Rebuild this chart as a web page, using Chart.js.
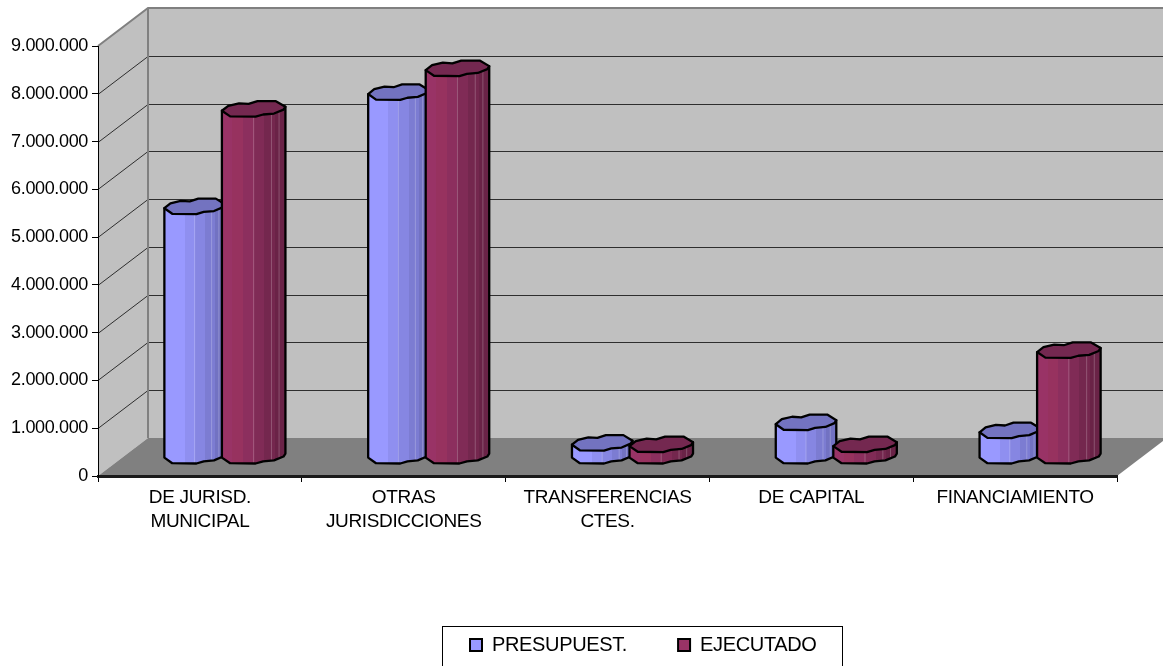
<!DOCTYPE html>
<html><head><meta charset="utf-8">
<style>html,body{margin:0;padding:0;background:#fff;overflow:hidden}canvas{display:block}</style>
<script src="https://cdn.jsdelivr.net/npm/chart.js@4/dist/chart.umd.min.js"></script>
</head><body><canvas id="c" width="1163" height="666"></canvas>
<script>
const categories = [['DE JURISD.','MUNICIPAL'],['OTRAS','JURISDICCIONES'],['TRANSFERENCIAS','CTES.'],'DE CAPITAL','FINANCIAMIENTO'];
const presupuest = [5230000,7620000,280000,710000,540000];
const ejecutado  = [7270000,8120000,250000,250000,2220000];
const seriesNames = ['PRESUPUEST.','EJECUTADO'];
const FONT = '"Liberation Sans", Arial, sans-serif';
const DEPTH_X = 50, DEPTH_Y = 38, BAR_DX = 25, BAR_DY = -12, CAP_H = 15.5;
const capShape = [[0,.62],[.1,.3],[.27,.14],[.42,.18],[.56,0],[.85,0],[1,.36],[.97,.55],[.82,.8],[.65,.86],[.53,1],[.13,.98]];
const frontEdge = [[0,.62],[.13,.98],[.53,1],[.65,.86],[.82,.8],[.97,.55],[1,.36]];
const palettes = [
  {extend:0,body:['#9999ff','#9999ff','#8f8ff0','#8686e2','#7c7cd2','#7272c2'],cap:'#7373c0'},
  {extend:3,body:['#993366','#97325f','#8c2f5e','#802b56','#74274e','#6a2347'],cap:'#742850'}
];
function cylinder(ctx, el, pal){
  const w = el.width + pal.extend, left = el.x - el.width/2 - pal.extend + BAR_DX;
  const front = el.y + BAR_DY, base = el.base + BAR_DY, h = base - front;
  const capTop = front - CAP_H;
  const px = u => left + u*w, py = v => capTop + v*CAP_H;
  ctx.save();
  ctx.lineJoin = 'round';
  const g = ctx.createLinearGradient(left,0,left+w,0);
  pal.body.forEach((c,i)=>{const n=pal.body.length; g.addColorStop(i/n,c); g.addColorStop((i+1)/n,c);});
  const body = new Path2D();
  body.moveTo(px(0),py(.62));
  frontEdge.forEach(p=>body.lineTo(px(p[0]),py(p[1])+h));
  body.lineTo(px(1),py(.36));
  body.lineTo(px(.5),py(.5));
  body.closePath();
  ctx.fillStyle = g; ctx.fill(body);
  ctx.save(); ctx.clip(body);
  ctx.strokeStyle='rgba(255,255,255,.22)'; ctx.lineWidth=1;
  [.5,.78,.9].forEach(u=>{ctx.beginPath();ctx.moveTo(px(u),capTop);ctx.lineTo(px(u),base+CAP_H);ctx.stroke();});
  ctx.restore();
  ctx.strokeStyle='#000'; ctx.lineWidth=2.3;
  ctx.stroke(body);
  const cap = new Path2D();
  capShape.forEach((p,i)=>i?cap.lineTo(px(p[0]),py(p[1])):cap.moveTo(px(p[0]),py(p[1])));
  cap.closePath();
  ctx.fillStyle = pal.cap; ctx.fill(cap); ctx.stroke(cap);
  ctx.restore();
}
const scene = {
  id:'scene',
  afterLayout(chart){
    const l = chart.legend;
    l.left = 419; l.right = 900; l.top = 584; l.bottom = 666;
  },
  beforeDraw(chart){
    const {ctx, chartArea:a, scales:{y}} = chart;
    ctx.letterSpacing = '-0.35px';
    ctx.save();
    const L=a.left,R=a.right,T=a.top,B=a.bottom;
    ctx.fillStyle='#fff'; ctx.fillRect(0,0,chart.width,chart.height);
    ctx.fillStyle='#c0c0c0';
    ctx.beginPath();ctx.moveTo(L,T);ctx.lineTo(L+DEPTH_X,T-DEPTH_Y);ctx.lineTo(L+DEPTH_X,B-DEPTH_Y);ctx.lineTo(L,B);ctx.closePath();ctx.fill();
    ctx.fillRect(L+DEPTH_X,T-DEPTH_Y,R-L,B-T);
    ctx.fillStyle='#808080';
    ctx.beginPath();ctx.moveTo(L,B);ctx.lineTo(L+DEPTH_X,B-DEPTH_Y);ctx.lineTo(R+DEPTH_X,B-DEPTH_Y);ctx.lineTo(R,B);ctx.closePath();ctx.fill();
    ctx.strokeStyle='#2e2e2e'; ctx.lineWidth=1;
    y.ticks.forEach(t=>{
      if(t.value<=0||t.value>=y.max) return;
      const p=Math.round(y.getPixelForValue(t.value))+.5;
      ctx.beginPath();ctx.moveTo(L,p);ctx.lineTo(L+DEPTH_X,p-DEPTH_Y);ctx.lineTo(R+DEPTH_X,p-DEPTH_Y);ctx.stroke();
    });
    ctx.strokeStyle='#808080'; ctx.lineWidth=2;
    ctx.beginPath();ctx.moveTo(L,T);ctx.lineTo(L+DEPTH_X,T-DEPTH_Y);ctx.lineTo(R+DEPTH_X,T-DEPTH_Y);ctx.moveTo(L+DEPTH_X,T-DEPTH_Y);ctx.lineTo(L+DEPTH_X,B-DEPTH_Y);ctx.stroke();
    ctx.strokeStyle='#000'; ctx.lineWidth=1;
    ctx.strokeRect(442.5,626.5,400,45);
    ctx.restore();
  },
  beforeDatasetsDraw(chart){
    const ctx = chart.ctx;
    const n = chart.data.labels.length;
    for(let i=0;i<n;i++){
      chart.data.datasets.forEach((d,di)=>{
        cylinder(ctx, chart.getDatasetMeta(di).data[i], palettes[di]);
      });
    }
    return false;
  }
};
new Chart(document.getElementById('c'),{
  type:'bar',
  plugins:[scene],
  data:{labels:categories,datasets:[
    {label:seriesNames[0],data:presupuest,backgroundColor:'#9999ff',borderColor:'#000',borderWidth:2},
    {label:seriesNames[1],data:ejecutado,backgroundColor:'#993366',borderColor:'#000',borderWidth:2}
  ]},
  options:{
    responsive:false,animation:false,
    categoryPercentage:.594,barPercentage:1,
    layout:{padding:{left:0,top:46,right:46,bottom:0}},
    plugins:{
      tooltip:{enabled:false},
      legend:{display:true,position:'bottom',align:'start',
        labels:{boxWidth:12,boxHeight:12,padding:51,color:'#000',font:{family:FONT,size:20}}}
    },
    scales:{
      x:{
        grid:{color:'transparent',drawOnChartArea:false,tickColor:'#000',tickLength:6,lineWidth:1,offset:true},
        border:{color:'#1a1a1a',width:3},
        ticks:{color:'#000',maxRotation:0,minRotation:0,autoSkip:false,padding:4,font:{family:FONT,size:19,lineHeight:1.263}},
        afterFit(s){ s.height = 190 - s.chart.legend.height; }
      },
      y:{
        min:0,max:9000000,
        grid:{color:'transparent',drawOnChartArea:false,tickColor:'#000',tickLength:6,lineWidth:1},
        border:{color:'#000',width:1},
        ticks:{stepSize:1000000,color:'#000',padding:4,labelOffset:0,font:{family:FONT,size:18},
          callback:v=>String(v).replace(/\B(?=(\d{3})+$)/g,'.')},
        afterFit(s){ s.width = 98; }
      }
    }
  }
});
</script></body></html>
